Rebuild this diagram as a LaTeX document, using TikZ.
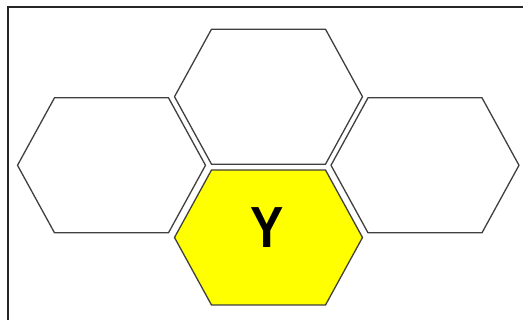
\documentclass[tikz,border=0pt]{standalone}
\usepackage{fontspec}
\setmainfont{Liberation Sans}
\definecolor{hexline}{HTML}{404040}
\definecolor{hexyellow}{HTML}{FFFF00}
\begin{document}
\begin{tikzpicture}[x=1pt,y=-1pt,
  hexcell/.style={draw=hexline,line width=1.3pt,line join=miter},
  frame/.style={draw=black!85,line width=1.3pt}]
\useasboundingbox (0,0) rectangle (523,320);
\clip (0,0) rectangle (523,320);
\fill[white] (0,0) rectangle (523,320);
\draw[frame] (8,7) rectangle (540,340);
\def\hexpath#1{
  ([shift={(-94,0)}]#1) -- ([shift={(-57,-67.5)}]#1) -- ([shift={(57,-67.5)}]#1) --
  ([shift={(94,0)}]#1) -- ([shift={(57,67.5)}]#1) -- ([shift={(-57,67.5)}]#1) -- cycle}
\coordinate (top) at (268.5,96.7);
\coordinate (left) at (111.5,165.3);
\coordinate (right) at (425,165.3);
\coordinate (bottom) at (268.5,237.5);
\path[hexcell] \hexpath{top};
\path[hexcell] \hexpath{left};
\path[hexcell] \hexpath{right};
\path[hexcell,fill=hexyellow] \hexpath{bottom};
\node[font=\bfseries\fontsize{58}{58}\selectfont,inner sep=0pt,xscale=0.86] (ylabel) at (267.5,228) {Y};
\end{tikzpicture}
\end{document}
